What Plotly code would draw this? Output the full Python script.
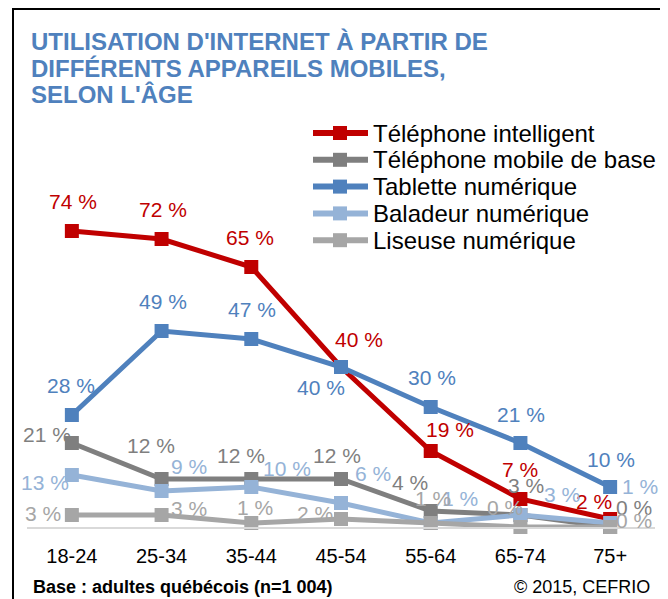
import plotly.graph_objects as go

# ---------------- data ----------------
ages = ["18-24", "25-34", "35-44", "45-54", "55-64", "65-74", "75+"]
smartphone = [74, 72, 65, 40, 19, 7, 2]
basic_phone = [21, 12, 12, 12, 4, 3, 0]
tablet = [28, 49, 47, 40, 30, 21, 10]
player = [13, 9, 10, 6, 1, 3, 1]
ereader = [3, 3, 1, 2, 1, 0, 0]

series_names = ["Téléphone intelligent", "Téléphone mobile de base", "Tablette numérique",
                "Baladeur numérique", "Liseuse numérique"]
colors = ["#C00000", "#7F7F7F", "#4F81BD", "#95B3D7", "#A6A6A6"]
values = [smartphone, basic_phone, tablet, player, ereader]

# label offsets (pixels, dx right, dy down) for each series/point
label_offsets = [
    [(1, -30), (1, -30), (-1, -30), (18, -28), (19, -22), (0, -30), (-16, -18)],
    [(-25, -9), (-11, -34), (-10, -24), (-4, -24), (-21, -29), (6, -30), (24, -20)],
    [(-1, -30), (1, -30), (1, -30), (-20, 20), (1, -30), (1, -29), (1, -28)],
    [(-27, 7), (27, -25), (36, -19), (32, -30), (29, -25), (42, -21), (30, -37)],
    [(-29, -2), (27, -7), (4, -16), (-26, -6), (2, -25), (-15, -20), (24, -7)],
]

OFF = 8  # page body margin
W, H = 668 - OFF, 599 - OFF
# plot area in reference pixel coordinates
RL, RR, RT, RB = 27, 655, 207, 527
L, R, T, B = RL - OFF, RR - OFF, RT - OFF, RB - OFF


def px2x(px):  # reference pixel -> paper
    return (px - OFF - L) / (R - L)


def py2y(py):
    return (B - (py - OFF)) / (B - T)


FONT = "Liberation Sans, Arial"

fig = go.Figure()
for name, col, vals in zip(series_names, colors, values):
    fig.add_trace(go.Scatter(
        x=ages, y=vals, name=name, mode="lines+markers",
        line=dict(color=col, width=5),
        marker=dict(symbol="square", size=14, color=col),
        cliponaxis=False, showlegend=False,
    ))

annotations = []
for col, vals, offs in zip(colors, values, label_offsets):
    for a, v, (dx, dy) in zip(ages, vals, offs):
        annotations.append(dict(
            x=a, y=v, xref="x", yref="y", text=f"{v} %", showarrow=False,
            xshift=dx, yshift=-dy, xanchor="center", yanchor="middle",
            font=dict(family=FONT, size=21, color=col),
        ))

title_lines = ["UTILISATION D'INTERNET À PARTIR DE", "DIFFÉRENTS APPAREILS MOBILES,", "SELON L'ÂGE"]
for i, line in enumerate(title_lines):
    annotations.append(dict(
        x=px2x(29), y=py2y(41 + 27 * i), xref="paper", yref="paper", text=f"<b>{line}</b>",
        showarrow=False, xanchor="left", yanchor="middle",
        font=dict(family=FONT, size=24, color="#4F81BD"),
    ))

# legend (custom, to match spacing)
shapes = []
for i, (name, col) in enumerate(zip(series_names, colors)):
    yc = 133 + 26.8 * i
    annotations.append(dict(
        x=px2x(371), y=py2y(yc), xref="paper", yref="paper", text=name,
        showarrow=False, xanchor="left", yanchor="middle",
        font=dict(family=FONT, size=24, color="black"),
    ))
    shapes.append(dict(type="line", xref="paper", yref="paper",
                       x0=px2x(313), x1=px2x(368), y0=py2y(yc), y1=py2y(yc),
                       line=dict(color=col, width=6)))
    shapes.append(dict(type="rect", xref="paper", yref="paper",
                       x0=px2x(333), x1=px2x(347), y0=py2y(yc - 7), y1=py2y(yc + 7),
                       fillcolor=col, line=dict(width=0)))

annotations.append(dict(
    x=px2x(31), y=py2y(587), xref="paper", yref="paper",
    text="<b>Base : adultes québécois (n=1 004)</b>", showarrow=False,
    xanchor="left", yanchor="middle",
    font=dict(family=FONT, size=18, color="black"),
))
annotations.append(dict(
    x=px2x(652), y=py2y(587), xref="paper", yref="paper",
    text="© 2015, CEFRIO", showarrow=False,
    xanchor="right", yanchor="middle",
    font=dict(family=FONT, size=18, color="black"),
))

shapes.append(dict(type="rect", xref="paper", yref="paper",
                   x0=px2x(13), x1=px2x(663), y0=py2y(615), y1=py2y(9),
                   line=dict(color="black", width=2)))

fig.update_layout(
    width=W, height=H,
    margin=dict(l=L, r=W - R, t=T, b=H - B),
    paper_bgcolor="white", plot_bgcolor="white",
    showlegend=False,
    annotations=annotations,
    shapes=shapes,
    xaxis=dict(type="category", range=[-0.5, 6.5], showgrid=False, zeroline=False,
               showline=True, linecolor="#D9D9D9", linewidth=2, ticks="",
               tickfont=dict(family=FONT, size=20, color="black"),
               ticklabelstandoff=10, fixedrange=True),
    yaxis=dict(range=[0, 80], visible=False, fixedrange=True),
)

fig.write_html("out.html")
